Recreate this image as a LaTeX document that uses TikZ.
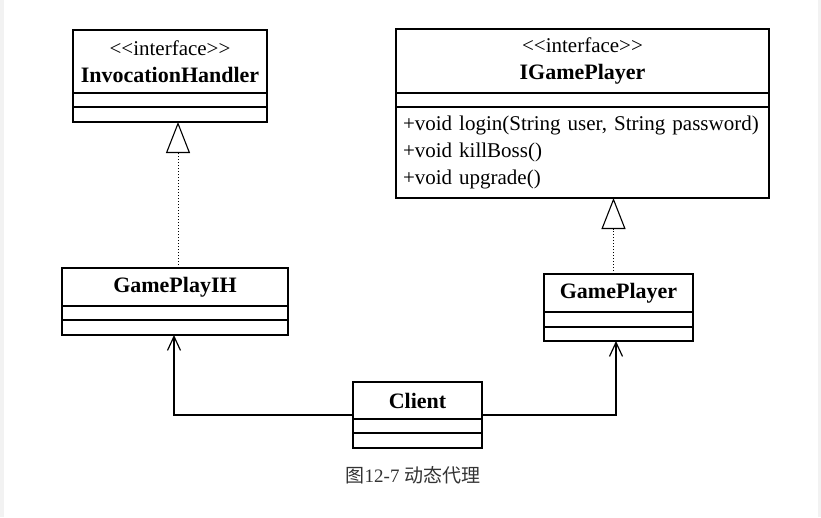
\documentclass[tikz,border=0pt]{standalone}
\usepackage{fontspec}
\setmainfont{Liberation Serif}
\newfontfamily\cjk{Noto Sans CJK SC}
\usetikzlibrary{arrows.meta}
\begin{document}
\begin{tikzpicture}[x=1pt,y=-1pt,
  box/.style={draw, line width=1.2pt, inner sep=0pt, outer sep=0pt},
  hdr/.style={box, align=center, font=\fontsize{21}{26.5}\selectfont},
  nm/.style={font=\fontsize{22}{26.5}\selectfont\bfseries},
  realize/.style={line width=1pt, dash pattern=on 1.2pt off 1.8pt,
     -{Triangle[open, length=31pt, width=24pt, line width=1.1pt]}},
  assoc/.style={line width=1.2pt, -{Straight Barb[length=14pt, width=13pt, line width=1.2pt]}}]
\useasboundingbox (0,0) rectangle (821,517);
\fill[gray!10] (0,0) rectangle (4,517);
\fill[gray!10] (818,0) rectangle (821,517);

% InvocationHandler
\node[hdr, minimum width=194pt, minimum height=63pt] (ih) at (170,61.5)
  {<{}<interface>{}>\\{\fontsize{22}{22}\selectfont\bfseries InvocationHandler}};
\node[box, minimum width=194pt, minimum height=14pt, anchor=north] (ih1) at (ih.south) {};
\node[box, minimum width=194pt, minimum height=15pt, anchor=north] (ih2) at (ih1.south) {};

% IGamePlayer
\node[hdr, minimum width=373pt, minimum height=64pt] (igp) at (582.5,61)
  {<{}<interface>{}>\\{\fontsize{22}{22}\selectfont\bfseries IGamePlayer}};
\node[box, minimum width=373pt, minimum height=14pt, anchor=north] (igp1) at (igp.south) {};
\node[box, minimum width=373pt, minimum height=91pt, anchor=north, align=left,
  text width=359pt, inner xsep=7pt, font=\fontsize{21}{27}\selectfont] (igp2) at (igp1.south)
  {+void login(String user, String password)\\+void killBoss()\\+void upgrade()};

% GamePlayIH
\node[hdr, nm, minimum width=226pt, minimum height=38pt] (gpih) at (175,287)
  {GamePlayIH};
\node[box, minimum width=226pt, minimum height=14pt, anchor=north] (gpih1) at (gpih.south) {};
\node[box, minimum width=226pt, minimum height=15pt, anchor=north] (gpih2) at (gpih1.south) {};

% GamePlayer
\node[hdr, nm, minimum width=149pt, minimum height=38pt] (gp) at (618.5,293)
  {GamePlayer};
\node[box, minimum width=149pt, minimum height=15pt, anchor=north] (gp1) at (gp.south) {};
\node[box, minimum width=149pt, minimum height=14pt, anchor=north] (gp2) at (gp1.south) {};

% Client
\node[hdr, nm, minimum width=129pt, minimum height=37pt] (cl) at (417.5,400.5)
  {Client};
\node[box, minimum width=129pt, minimum height=14pt, anchor=north] (cl1) at (cl.south) {};
\node[box, minimum width=129pt, minimum height=15pt, anchor=north] (cl2) at (cl1.south) {};
\coordinate (clw) at (cl.south west);
\coordinate (cle) at (cl.south east);

% realizations
\draw[realize] ([xshift=3pt]gpih.north) -- ([xshift=3pt]gpih.north |- ih2.south);
\draw[realize] ([xshift=-5pt]gp.north) -- ([xshift=-5pt]gp.north |- igp2.south);

% associations
\draw[assoc] ([yshift=4pt]clw) -| ([xshift=-1pt]gpih2.south);
\draw[assoc] ([yshift=4pt]cle) -| ([xshift=-2.5pt]gp2.south);

% caption
\node[font=\fontsize{19}{21}\selectfont, text=black!80] (cap) at (413,475)
  {{\cjk 图}12-7 {\cjk 动态代理}};
\end{tikzpicture}
\end{document}
